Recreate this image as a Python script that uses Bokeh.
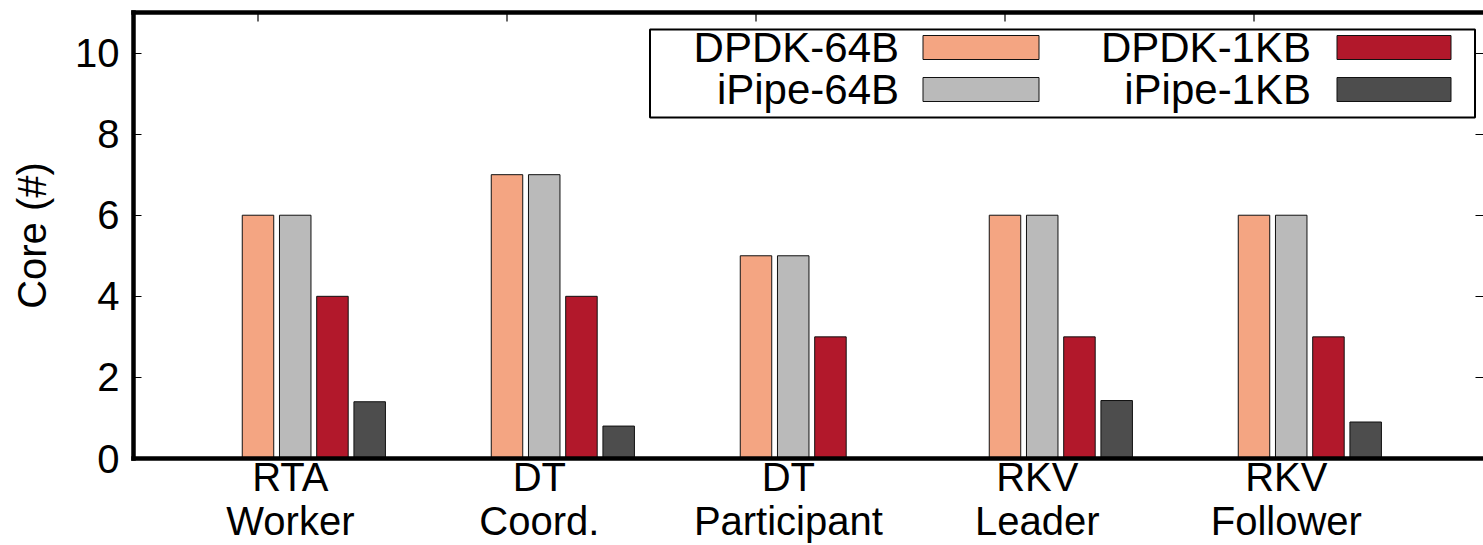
from bokeh.plotting import figure
from bokeh.models import (ColumnDataSource, FixedTicker, LinearAxis, Range1d,
                          BoxAnnotation, Label)
from bokeh.embed import file_html
from bokeh.resources import INLINE
import numpy as np

# ---------------- data ----------------
categories = ["RTA\nWorker", "DT\nCoord.", "DT\nParticipant", "RKV\nLeader", "RKV\nFollower"]
series_names = ["DPDK-64B", "iPipe-64B", "DPDK-1KB", "iPipe-1KB"]
dpdk_64b = [6, 7, 5, 6, 6]
ipipe_64b = [6, 7, 5, 6, 6]
dpdk_1kb = [4, 4, 3, 3, 3]
ipipe_1kb = [1.4, 0.8, np.nan, 1.43, 0.9]
y_ticks = [0, 2, 4, 6, 8, 10]
colors = ["#F4A582", "#BABABA", "#B2182B", "#4D4D4D"]

FONT = "Liberation Sans"
FS = "40px"
LEG_FS = "42px"

# ---------------- layout ----------------
W, H = 1483, 545
frame_w = 1350
ppx = 249.0                      # pixels per category unit
x_start = -0.5
x_end = x_start + frame_w / ppx
y_start, y_end = 0, 11
ppy = 446.0 / (y_end - y_start)  # pixels per y unit
bar_w = 0.1265
bar_step = 0.1495
label_off = 0.13

def dx(px):  # px offset -> data x
    return px / ppx
def dy(py):  # px offset -> data y
    return py / ppy

p = figure(width=W, height=H, output_backend="svg", toolbar_location=None,
           x_range=Range1d(x_start, x_end), y_range=Range1d(y_start, y_end),
           x_axis_location=None, y_axis_location=None,
           min_border_left=133, min_border_right=0, min_border_top=12,
           min_border_bottom=87)
p.outline_line_color = None
p.xgrid.visible = False
p.ygrid.visible = False
p.background_fill_color = "white"
p.border_fill_color = "white"

xs = np.arange(len(categories))
all_vals = [dpdk_64b, ipipe_64b, dpdk_1kb, ipipe_1kb]
for i, (vals, col) in enumerate(zip(all_vals, colors)):
    src = ColumnDataSource(dict(x=xs + i * bar_step, top=vals))
    p.vbar(x="x", top="top", bottom=0, width=bar_w, source=src,
           fill_color=col, line_color="#111111", line_width=1)

# mirrored x tics on the top border (at the first bar of each cluster)
p.segment(x0=xs.astype(float), y0=[y_end] * len(xs), x1=xs.astype(float),
          y1=[y_end - dy(9)] * len(xs), line_color="black", line_width=1.2)

# ---------------- axes ----------------
def style_axis(ax, lw):
    ax.axis_line_width = lw if lw else 1
    ax.axis_line_color = "black" if lw else None
    ax.axis_line_cap = "square"
    ax.major_tick_in = 8
    ax.major_tick_out = 0
    ax.major_tick_line_color = "black"
    ax.minor_tick_line_color = None
    ax.major_tick_line_width = 1
    ax.major_label_text_font = FONT
    ax.major_label_text_font_size = FS
    ax.major_label_text_color = "black"

left = LinearAxis(ticker=FixedTicker(ticks=y_ticks), axis_label="Core (#)")
style_axis(left, 4.5)
left.major_label_standoff = 14
left.axis_label_text_font = FONT
left.axis_label_text_font_size = FS
left.axis_label_text_font_style = "normal"
left.axis_label_text_color = "black"
left.axis_label_standoff = 18
p.add_layout(left, "left")

right = LinearAxis(ticker=FixedTicker(ticks=y_ticks),
                   major_label_overrides={t: "" for t in y_ticks})
style_axis(right, 0)
right.major_label_standoff = 0
p.add_layout(right, "right")

label_pos = [round(float(k) + label_off, 2) for k in xs]
below = LinearAxis(ticker=FixedTicker(ticks=label_pos),
                   major_label_overrides={lp: c for lp, c in zip(label_pos, categories)})
style_axis(below, 4.5)
below.major_tick_in = 0
below.major_label_standoff = -4
below.major_label_text_line_height = 1.0
p.add_layout(below, "below")

above = LinearAxis(ticker=FixedTicker(ticks=[]))
style_axis(above, 4.5)
above.major_label_standoff = 0
p.add_layout(above, "above")

# ---------------- legend (text left, swatch right, like gnuplot) ----------------
leg_left, leg_right = dx(392), dx(1217)
leg_top, leg_bottom = dy(429), dy(341)
p.add_layout(BoxAnnotation(left=leg_left, right=leg_right, top=leg_top, bottom=leg_bottom,
                           fill_color="white", fill_alpha=1.0,
                           line_color="black", line_width=2, line_alpha=1.0))
row_y = [dy(411), dy(369)]
text_right = [dx(641), dx(1053)]
sw_left = [dx(665), dx(1079)]
sw_right = [dx(781), dx(1193)]
sw_half = dy(12)
for i, name in enumerate(series_names):
    col_i = i // 2
    row_i = i % 2
    yc = row_y[row_i]
    p.add_layout(Label(x=text_right[col_i], y=yc, text=name, text_align="right",
                       text_baseline="middle", text_font=FONT, text_font_size=LEG_FS,
                       text_color="black"))
    p.add_layout(BoxAnnotation(left=sw_left[col_i], right=sw_right[col_i],
                               top=yc + sw_half, bottom=yc - sw_half,
                               fill_color=colors[i], fill_alpha=1.0,
                               line_color="#111111", line_width=1, line_alpha=1.0))

open("out.html", "w").write(file_html(p, INLINE))
